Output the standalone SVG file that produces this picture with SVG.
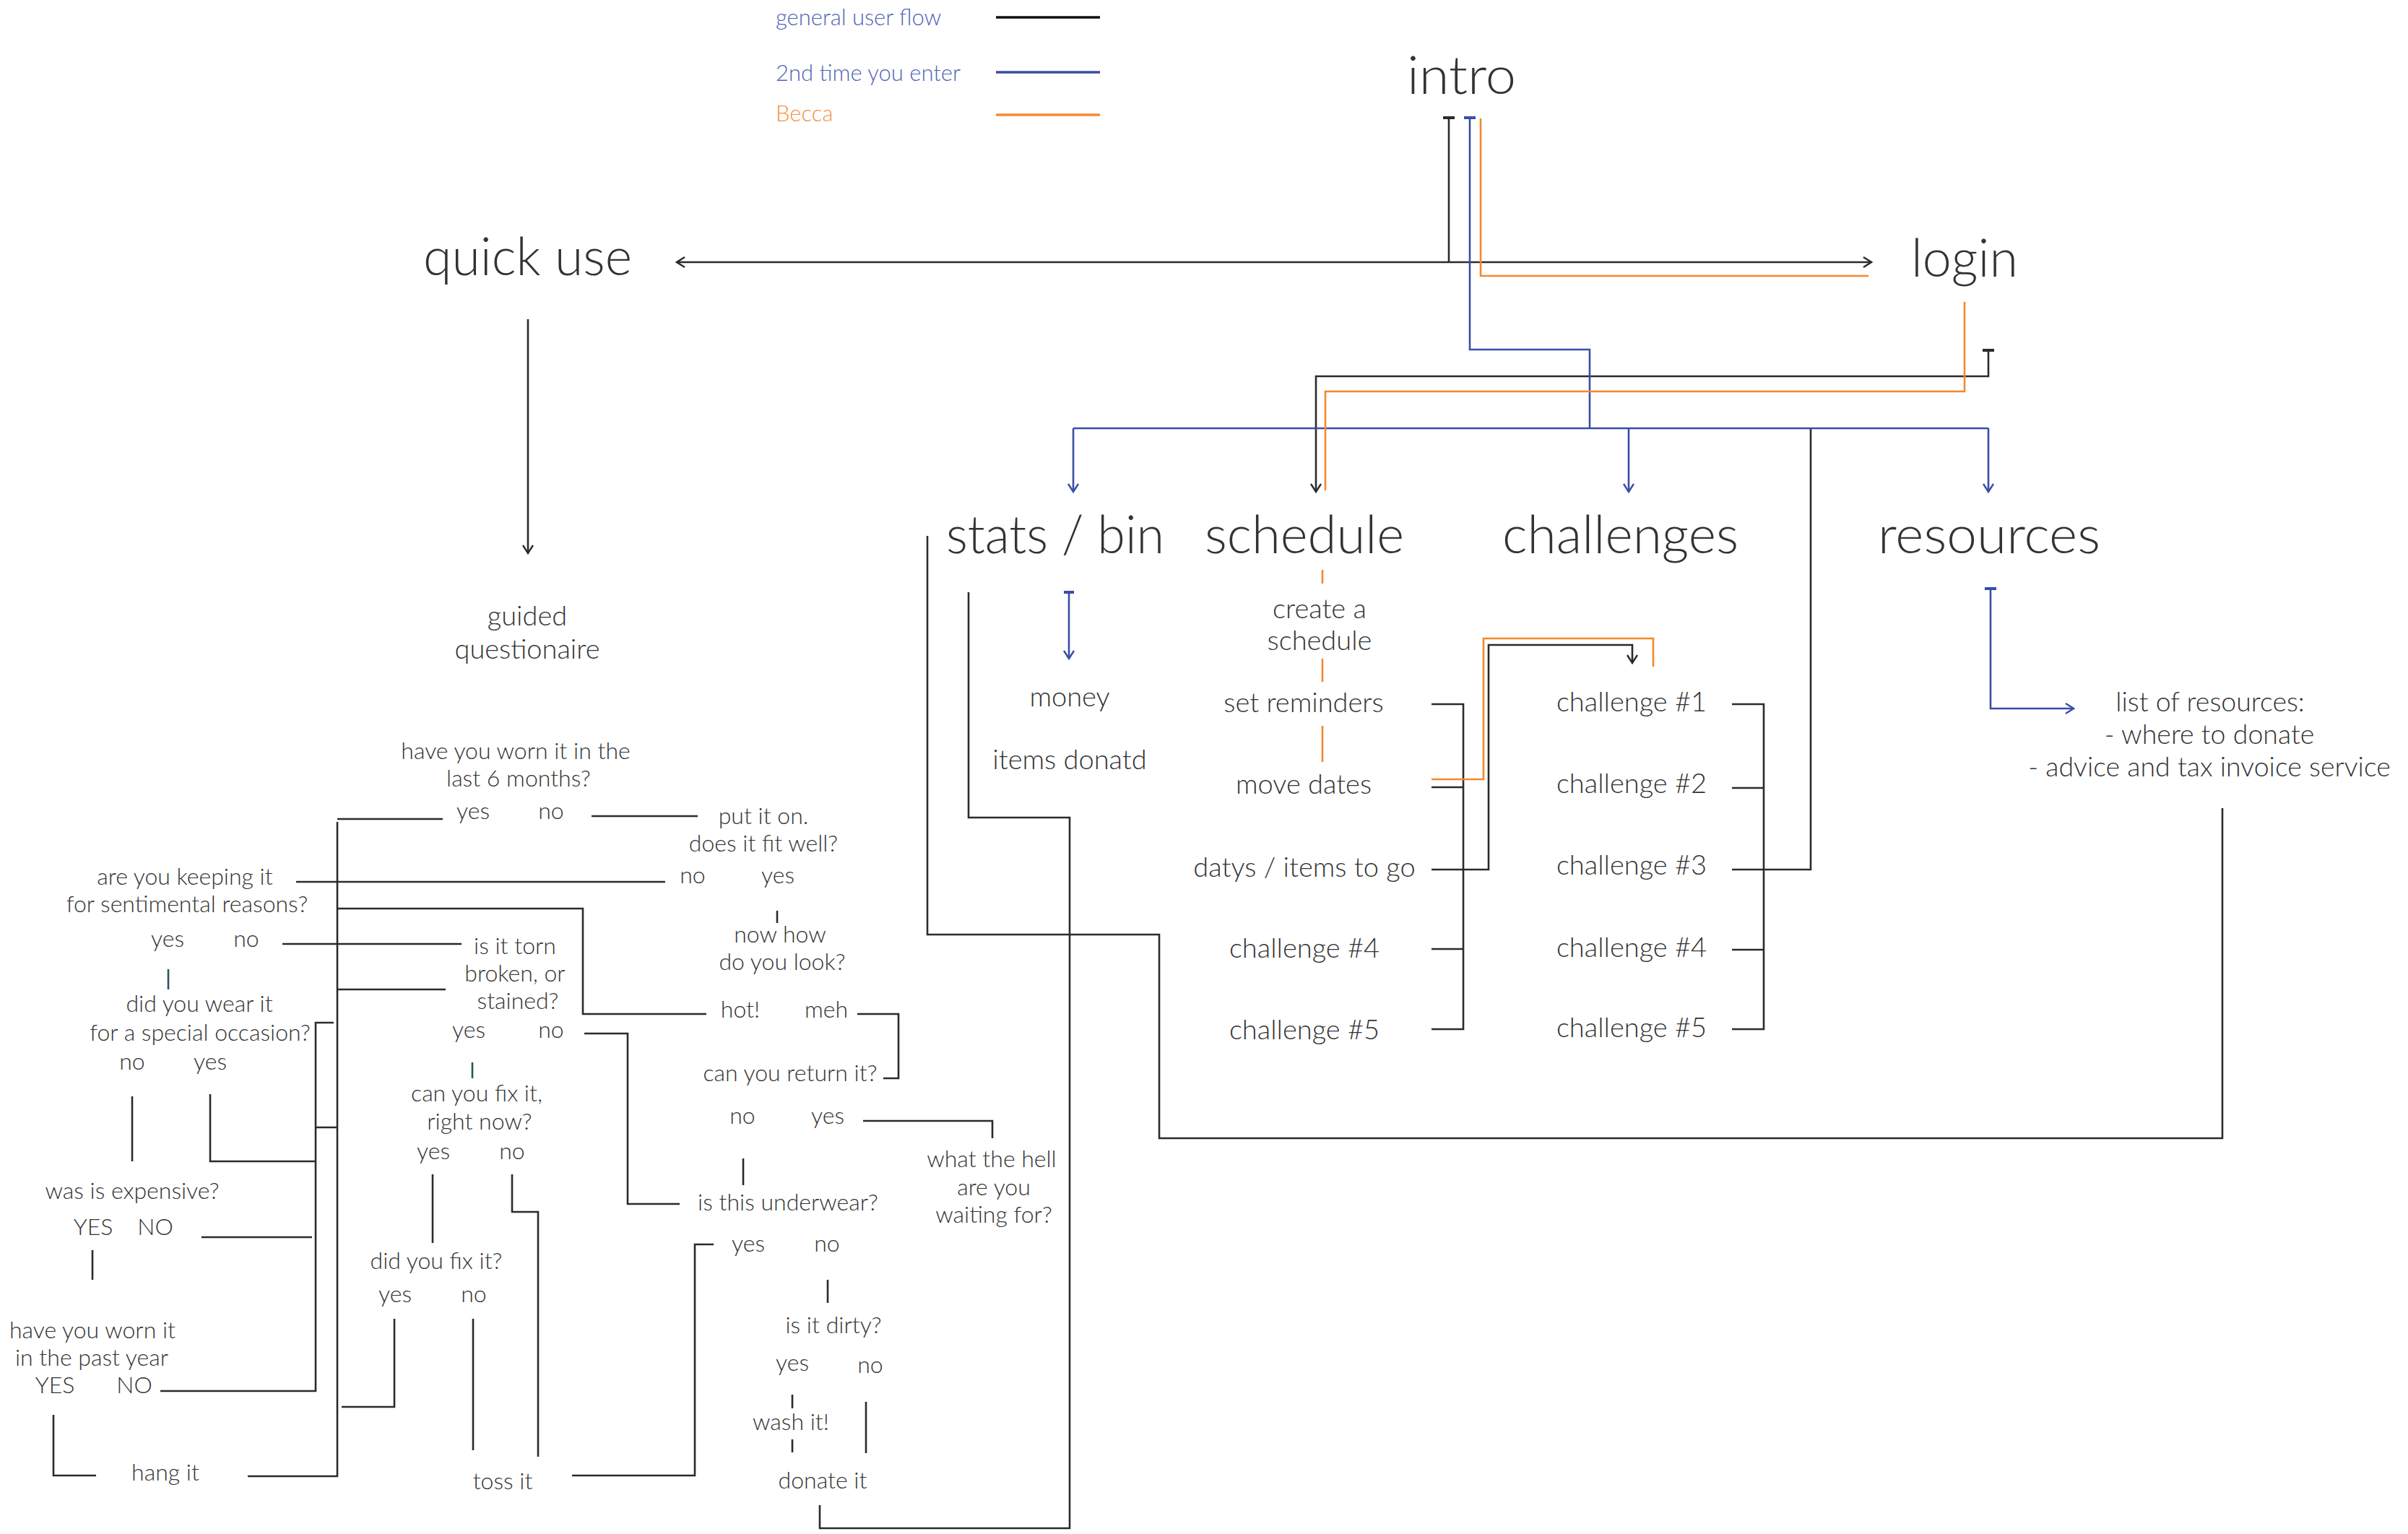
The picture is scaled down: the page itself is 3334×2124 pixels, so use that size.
<svg xmlns="http://www.w3.org/2000/svg" width="3334" height="2124" viewBox="0 0 3334 2124">
<defs>
<style>
text{font-family:Lato,"Noto Sans","Liberation Sans",sans-serif;font-weight:300;fill:#333}
.big{font-size:73px}
.sub{font-size:38px;text-anchor:middle}
.q{font-size:32px;text-anchor:middle}
.leg{font-size:31px}
.lb{fill:#5264b4}
.lo{fill:#f5913e}
.k,.b,.o,.t{fill:none;stroke-width:2.6}
.k{stroke:#2b2b2b}
.b{stroke:#3a4ea6}
.o{stroke:#f5892c}
.t{stroke:#2f5558}
.cap{stroke-width:4}
</style>
<marker id="ak" viewBox="-14 -9 16 18" refX="0" refY="0" markerWidth="16" markerHeight="18" markerUnits="userSpaceOnUse" orient="auto"><path d="M-11,-7 L0,0 L-11,7" fill="none" stroke="#2b2b2b" stroke-width="2.4"/></marker>
<marker id="ab" viewBox="-14 -9 16 18" refX="0" refY="0" markerWidth="16" markerHeight="18" markerUnits="userSpaceOnUse" orient="auto"><path d="M-11,-7 L0,0 L-11,7" fill="none" stroke="#3a4ea6" stroke-width="2.4"/></marker>
</defs>
<rect width="3334" height="2124" fill="#fff"/>

<g id="legend">
<text class="leg lb" x="1074" y="35">general user flow</text>
<text class="leg lb" x="1074" y="112">2nd time you enter</text>
<text class="leg lo" x="1074" y="168">Becca</text>
<line class="k" x1="1379" y1="24" x2="1523" y2="24" style="stroke-width:3.4;stroke:#111"/>
<line class="b" x1="1379" y1="100" x2="1523" y2="100" style="stroke-width:3.4"/>
<line class="o" x1="1379" y1="159" x2="1523" y2="159" style="stroke-width:3.4"/>
</g>

<g id="connectors">
<!-- general flow -->
<line class="k cap" x1="1998" y1="163" x2="2014" y2="163"/>
<path class="k" d="M2006,163 V363"/>
<path class="k" d="M2006,363 H937" marker-end="url(#ak)"/>
<path class="k" d="M2006,363 H2591" marker-end="url(#ak)"/>
<line class="k cap" x1="2745" y1="485" x2="2761" y2="485"/>
<path class="k" d="M2753,485 V521 H1822 V681" marker-end="url(#ak)"/>
<path class="k" d="M731,442 V766" marker-end="url(#ak)"/>
<path class="k" d="M2507,593 V1204 H2442"/>
<path class="k" d="M1284,742 V1294 H1605 V1576 H3077 V1119"/>
<path class="k" d="M1341,820 V1132 H1481 V2116 H1135 V2084"/>
<path class="k" d="M1982,975 H2026 V1425 H1982 M1982,1090 H2026 M1982,1314 H2026"/>
<path class="k" d="M1982,1204 H2061 V893 H2260 V918" marker-end="url(#ak)"/>
<path class="k" d="M2398,975 H2442 V1425 H2398 M2398,1091 H2442 M2398,1204 H2442 M2398,1315 H2442"/>
<!-- 2nd time -->
<line class="b cap" x1="2027" y1="163" x2="2043" y2="163"/>
<path class="b" d="M2035,163 V484 H2201 V593"/>
<path class="b" d="M1486,593 H2753"/>
<path class="b" d="M1486,593 V681" marker-end="url(#ab)"/>
<path class="b" d="M2255,593 V681" marker-end="url(#ab)"/>
<path class="b" d="M2753,593 V681" marker-end="url(#ab)"/>
<line class="b cap" x1="1473" y1="820" x2="1487" y2="820"/>
<path class="b" d="M1480,820 V912" marker-end="url(#ab)"/>
<line class="b cap" x1="2748" y1="815" x2="2764" y2="815"/>
<path class="b" d="M2756,815 V981 H2871" marker-end="url(#ab)"/>
<!-- Becca -->
<path class="o" d="M2050,164 V382 H2587"/>
<path class="o" d="M2720,418 V542 H1835 V679"/>
<path class="o" d="M1831,789 V808 M1831,912 V944 M1831,1005 V1055"/>
<path class="o" d="M1982,1079 H2054 V884 H2289 V923"/>
<!-- questionnaire -->
<path class="k" d="M467,1134 H613"/>
<path class="k" d="M467,1138 V2044 H343"/>
<path class="k" d="M819,1130 H966"/>
<path class="k" d="M410,1221 H921"/>
<path class="k" d="M467,1258 H807 V1404 H978"/>
<path class="k" d="M1187,1404 H1244 V1493 H1223"/>
<path class="k" d="M1076,1261 V1278"/>
<path class="k" d="M1195,1552 H1374 V1576"/>
<path class="k" d="M1029,1604 V1641"/>
<path class="k" d="M391,1307 H639"/>
<path class="k" d="M467,1370 H617"/>
<path class="k" d="M809,1431 H869 V1667 H941"/>
<path class="t" d="M654,1471 V1493 M233,1342 V1370"/>
<path class="k" d="M599,1626 V1721"/>
<path class="k" d="M709,1626 V1678 H745 V2017"/>
<path class="k" d="M546,1826 V1948 H473"/>
<path class="k" d="M655,1826 V2008"/>
<path class="k" d="M988,1723 H962 V2043 H792"/>
<path class="k" d="M1146,1772 V1804 M1097,1931 V1950 M1097,1993 V2011 M1199,1941 V2012"/>
<path class="k" d="M462,1416 H437 V1926 H222 M437,1561 H467 M437,1608 H291 V1515 M183,1518 V1608 M279,1713 H432 M128,1731 V1772 M74,1959 V2043 H133"/>
</g>

<g id="intro"><text class="big" x="1948" y="130" textLength="151" lengthAdjust="spacingAndGlyphs">intro</text></g>
<g id="quick-use"><text class="big" x="586" y="381" textLength="289" lengthAdjust="spacingAndGlyphs">quick use</text></g>
<g id="login"><text class="big" x="2646" y="383" textLength="148" lengthAdjust="spacingAndGlyphs">login</text></g>
<g id="stats-bin"><text class="big" x="1310" y="766" textLength="302" lengthAdjust="spacingAndGlyphs">stats / bin</text></g>
<g id="schedule"><text class="big" x="1668" y="766" textLength="276" lengthAdjust="spacingAndGlyphs">schedule</text></g>
<g id="challenges"><text class="big" x="2080" y="766" textLength="327" lengthAdjust="spacingAndGlyphs">challenges</text></g>
<g id="resources"><text class="big" x="2600" y="766" textLength="308" lengthAdjust="spacingAndGlyphs">resources</text></g>

<g id="guided"><text class="sub" x="730" y="866">guided</text><text class="sub" x="730" y="912">questionaire</text></g>
<g id="money"><text class="sub" x="1481" y="978">money</text></g>
<g id="items-donatd"><text class="sub" x="1481" y="1065">items donatd</text></g>
<g id="create-schedule"><text class="sub" x="1827" y="856">create a</text><text class="sub" x="1827" y="900">schedule</text></g>
<g id="set-reminders"><text class="sub" x="1805" y="986">set reminders</text></g>
<g id="move-dates"><text class="sub" x="1805" y="1099">move dates</text></g>
<g id="datys"><text class="sub" x="1806" y="1214">datys / items to go</text></g>
<g id="s-ch4"><text class="sub" x="1806" y="1326">challenge #4</text></g>
<g id="s-ch5"><text class="sub" x="1806" y="1439">challenge #5</text></g>
<g id="ch1"><text class="sub" x="2259" y="985">challenge #1</text></g>
<g id="ch2"><text class="sub" x="2259" y="1098">challenge #2</text></g>
<g id="ch3"><text class="sub" x="2259" y="1211">challenge #3</text></g>
<g id="ch4"><text class="sub" x="2259" y="1325">challenge #4</text></g>
<g id="ch5"><text class="sub" x="2259" y="1436">challenge #5</text></g>
<g id="resource-list"><text class="sub" x="3060" y="985" style="font-size:37.5px">list of resources:</text><text class="sub" x="3059" y="1030" style="font-size:37.5px">- where to donate</text><text class="sub" x="3059" y="1075" style="font-size:37.5px">- advice and tax invoice service</text></g>

<g id="q-worn6"><text class="q" x="714" y="1051">have you worn it in the</text><text class="q" x="718" y="1089">last 6 months?</text><text class="q" x="655" y="1134">yes</text><text class="q" x="763" y="1134">no</text></g>
<g id="q-fit"><text class="q" x="1057" y="1141">put it on.</text><text class="q" x="1057" y="1179">does it fit well?</text><text class="q" x="959" y="1223">no</text><text class="q" x="1077" y="1223">yes</text></g>
<g id="q-look"><text class="q" x="1080" y="1305">now how</text><text class="q" x="1083" y="1343">do you look?</text><text class="q" x="1025" y="1409">hot!</text><text class="q" x="1144" y="1409">meh</text></g>
<g id="q-return"><text class="q" x="1094" y="1497">can you return it?</text><text class="q" x="1028" y="1556">no</text><text class="q" x="1146" y="1556">yes</text></g>
<g id="q-waiting"><text class="q" x="1373" y="1616">what the hell</text><text class="q" x="1376" y="1655">are you</text><text class="q" x="1376" y="1693">waiting for?</text></g>
<g id="q-underwear"><text class="q" x="1091" y="1676">is this underwear?</text><text class="q" x="1036" y="1733">yes</text><text class="q" x="1145" y="1733">no</text></g>
<g id="q-dirty"><text class="q" x="1154" y="1846">is it dirty?</text><text class="q" x="1097" y="1898">yes</text><text class="q" x="1205" y="1901">no</text></g>
<g id="q-wash"><text class="q" x="1095" y="1980">wash it!</text></g>
<g id="q-donate"><text class="q" x="1139" y="2061">donate it</text></g>
<g id="q-toss"><text class="q" x="696" y="2062">toss it</text></g>
<g id="q-torn"><text class="q" x="713" y="1321">is it torn</text><text class="q" x="713" y="1359">broken, or</text><text class="q" x="717" y="1397">stained?</text><text class="q" x="649" y="1437">yes</text><text class="q" x="763" y="1437">no</text></g>
<g id="q-fixnow"><text class="q" x="660" y="1525">can you fix it,</text><text class="q" x="664" y="1564">right now?</text><text class="q" x="600" y="1605">yes</text><text class="q" x="709" y="1605">no</text></g>
<g id="q-fixed"><text class="q" x="604" y="1757">did you fix it?</text><text class="q" x="547" y="1803">yes</text><text class="q" x="656" y="1803">no</text></g>
<g id="q-sentimental"><text class="q" x="256" y="1225">are you keeping it</text><text class="q" x="259" y="1263">for sentimental reasons?</text><text class="q" x="232" y="1311">yes</text><text class="q" x="341" y="1311">no</text></g>
<g id="q-occasion"><text class="q" x="276" y="1401">did you wear it</text><text class="q" x="277" y="1441">for a special occasion?</text><text class="q" x="183" y="1481">no</text><text class="q" x="291" y="1481">yes</text></g>
<g id="q-expensive"><text class="q" x="183" y="1660">was is expensive?</text><text class="q" x="129" y="1710">YES</text><text class="q" x="215" y="1710">NO</text></g>
<g id="q-pastyear"><text class="q" x="128" y="1853">have you worn it</text><text class="q" x="127" y="1891">in the past year</text><text class="q" x="76" y="1929">YES</text><text class="q" x="186" y="1929">NO</text></g>
<g id="q-hang"><text class="q" x="229" y="2050">hang it</text></g>
</svg>
